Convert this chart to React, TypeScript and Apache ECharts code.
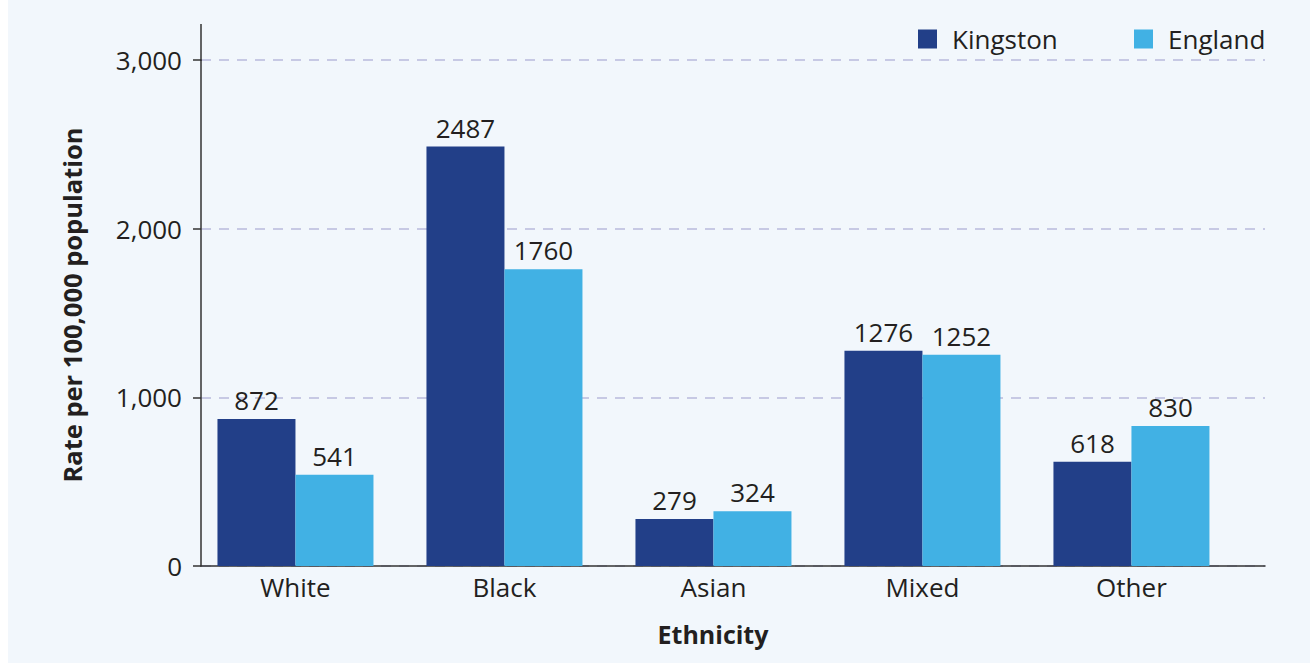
import React, { useEffect, useRef } from "react";
import * as echarts from "echarts";

const categories = ["White", "Black", "Asian", "Mixed", "Other"];
const kingston = [872, 2487, 279, 1276, 618];
const england = [541, 1760, 324, 1252, 830];
const yTicks = [0, 1000, 2000, 3000];

const FONT = "'Open Sans', 'Noto Sans', sans-serif";
const TEXT = "#231f20";

export default function App() {
  const ref = useRef<HTMLDivElement>(null);
  useEffect(() => {
    const chart = echarts.init(ref.current!, null, { renderer: "svg" });
    chart.setOption({
      animation: false,
      backgroundColor: "#ffffff",
      grid: { left: 201, right: 45, top: 60, bottom: 99, containLabel: false },
      legend: [
        {
          data: ["Kingston"],
          left: 913,
          top: 21,
          itemWidth: 19,
          itemHeight: 19,
          icon: "rect",
          textStyle: { fontFamily: FONT, fontSize: 26, color: TEXT, padding: [0, 0, 0, 10] },
        },
        {
          data: ["England"],
          left: 1129,
          top: 21,
          itemWidth: 19,
          itemHeight: 19,
          icon: "rect",
          textStyle: { fontFamily: FONT, fontSize: 26, color: TEXT, padding: [0, 0, 0, 10] },
        },
      ],
      xAxis: {
        type: "value",
        min: -0.452,
        max: 4.639,
        axisLine: { show: true, onZero: false, lineStyle: { color: "#333", width: 1.5 } },
        axisTick: { show: false },
        splitLine: { show: false },
        axisLabel: {
          customValues: categories.map((_, i) => i),
          formatter: (v: number) => categories[Math.round(v)] ?? "",
          fontFamily: FONT,
          fontSize: 26,
          color: TEXT,
          margin: 8,
        },
      },
      yAxis: {
        type: "value",
        min: 0,
        max: 3000,
        interval: 1000,
        axisLine: { show: true, onZero: false, lineStyle: { color: "#333", width: 1.5 } },
        axisTick: { show: true, length: 8, lineStyle: { color: "#333", width: 1.5 } },
        splitLine: { show: true, lineStyle: { color: "#b9bbdc", type: [10, 8], width: 1.5 } },
        axisLabel: {
          customValues: yTicks,
          formatter: (v: number) => v.toLocaleString("en-US"),
          fontFamily: FONT,
          fontSize: 26,
          color: TEXT,
          margin: 19,
        },
      },
      graphic: [
        { type: "rect", z: -10, silent: true, shape: { x: 8, y: 0, width: 1302, height: 663 }, style: { fill: "#f2f7fc" } },
        { type: "line", z: 10, shape: { x1: 201, y1: 24, x2: 201, y2: 61 }, style: { stroke: "#333", lineWidth: 1.5 } },
        {
          type: "text",
          x: 713,
          y: 634,
          style: { text: "Ethnicity", font: `bold 25px ${FONT}`, fill: TEXT, align: "center", verticalAlign: "middle" },
        },
        {
          type: "text",
          x: 72,
          y: 305,
          rotation: Math.PI / 2,
          style: {
            text: "Rate per 100,000 population",
            font: `bold 25.5px ${FONT}`,
            fill: TEXT,
            align: "center",
            verticalAlign: "middle",
          },
        },
      ],
      series: [
        {
          name: "Kingston",
          type: "bar",
          barWidth: 78,
          barGap: "0%",
          itemStyle: { color: "#223f88" },
          label: { show: true, position: "top", distance: 6, fontFamily: FONT, fontSize: 26, color: TEXT },
          data: categories.map((_, i) => [i, kingston[i]]),
        },
        {
          name: "England",
          type: "bar",
          barWidth: 78,
          barGap: "0%",
          itemStyle: { color: "#41b1e4" },
          label: { show: true, position: "top", distance: 6, fontFamily: FONT, fontSize: 26, color: TEXT },
          data: categories.map((_, i) => [i, england[i]]),
        },
      ],
    });
    return () => chart.dispose();
  }, []);
  return (
    <div
      ref={ref}
      style={{ position: "absolute", left: 0, top: 0, width: 1310, height: 665 }}
    />
  );
}
